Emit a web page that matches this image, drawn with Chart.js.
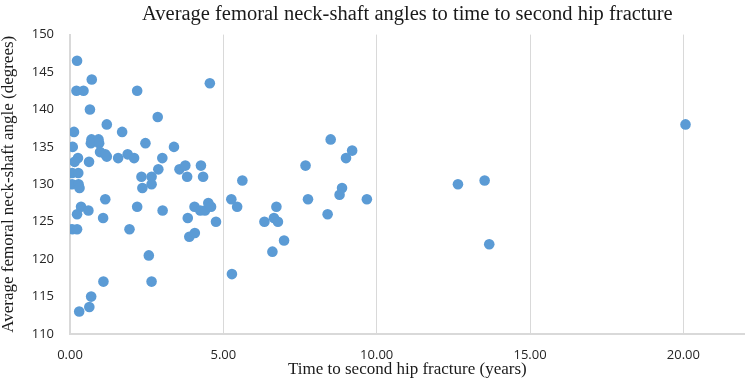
<!DOCTYPE html>
<html>
<head>
<meta charset="utf-8">
<script src="https://cdn.jsdelivr.net/npm/chart.js@4/dist/chart.umd.min.js"></script>
<style>
  html, body { margin: 0; padding: 0; background: #fff; }
  #wrap { width: 750px; height: 387px; position: relative; }
</style>
</head>
<body>
<div id="wrap"><canvas id="c" width="750" height="387"></canvas></div>
<script>
// Time to second hip fracture (years)
const timeYears = [
  0.23, 0.71, 0.21, 0.44, 2.19, 4.56, 0.65, 2.86, 1.20, 0.13,
  1.70, 0.70, 0.93, 0.68, 0.95, 2.46, 0.09, 3.39, 0.98, 1.15,
  1.88, 1.20, 0.26, 1.57, 2.09, 3.01, 0.15, 0.62, 2.88, 3.57,
  3.76, 4.27, 4.34, 3.82, 2.33, 2.66, 2.36, 2.66, 0.07, 0.27,
  0.07, 0.28, 0.31, 5.62, 1.15, 5.26, 5.45, 0.36, 0.23, 0.60,
  1.08, 2.19, 3.02, 1.94, 0.07, 0.23, 3.84, 4.06, 4.25, 4.40,
  4.51, 4.60, 4.76, 3.89, 4.07, 2.57, 1.09, 2.66, 5.28, 0.69,
  0.63, 0.30, 8.50, 9.20, 9.00, 7.68, 8.87, 8.79, 7.76, 9.68,
  8.40, 6.73, 6.34, 6.65, 6.78, 6.98, 6.60, 20.07, 12.65, 13.52,
  13.67
];
// Average femoral neck-shaft angle (degrees)
const neckShaftAngle = [
  146.5, 144.0, 142.5, 142.5, 142.5, 143.5, 140.0, 139.0, 138.0, 137.0,
  137.0, 136.0, 136.0, 135.5, 135.5, 135.5, 135.0, 135.0, 134.3, 134.0,
  134.0, 133.7, 133.5, 133.5, 133.5, 133.5, 133.0, 133.0, 132.0, 132.0,
  132.5, 132.5, 131.0, 131.0, 131.0, 131.0, 129.5, 130.0, 131.5, 131.5,
  130.0, 130.0, 129.5, 130.5, 128.0, 128.0, 127.0, 127.0, 126.0, 126.5,
  125.5, 127.0, 126.5, 124.0, 124.0, 124.0, 125.5, 127.0, 126.5, 126.5,
  127.5, 127.0, 125.0, 123.0, 123.5, 120.5, 117.0, 117.0, 118.0, 115.0,
  113.6, 113.0, 136.0, 134.5, 133.5, 132.5, 129.5, 128.6, 128.0, 128.0,
  126.0, 127.0, 125.0, 125.5, 125.0, 122.5, 121.0, 138.0, 130.0, 130.5,
  122.0
];
const xTickValues = [0, 5, 10, 15, 20];
const yTickValues = [110, 115, 120, 125, 130, 135, 140, 145, 150];

const chartTitle = 'Average femoral neck-shaft angles to time to second hip fracture';
const xTitle = 'Time to second hip fracture (years)';
const yTitle = 'Average femoral neck-shaft angle (degrees)';

const points = timeYears.map((x, i) => ({ x: x, y: neckShaftAngle[i] }));

const tickFont = { family: '"Open Sans", "Liberation Sans", sans-serif', size: 13 };
const serif = '"Liberation Serif", "DejaVu Serif", serif';

new Chart(document.getElementById('c'), {
  type: 'scatter',
  data: {
    datasets: [{
      data: points,
      backgroundColor: '#5b9bd5',
      borderColor: '#5b9bd5',
      borderWidth: 0,
      pointRadius: 5.3,
      pointHoverRadius: 5.3
    }]
  },
  options: {
    responsive: false,
    animation: false,
    devicePixelRatio: 1,
    layout: { padding: 0 },
    plugins: {
      legend: { display: false },
      tooltip: { enabled: false },
      title: {
        display: true,
        fullSize: false,
        text: chartTitle,
        color: '#1a1a1a',
        font: { family: serif, size: 20.5, weight: 'normal', lineHeight: 1.2 },
        padding: { top: 2, bottom: 8 }
      }
    },
    scales: {
      x: {
        type: 'linear',
        min: 0,
        max: 22,
        afterBuildTicks: (s) => { s.ticks = xTickValues.map(v => ({ value: v })); },
        afterFit: (s) => { s.height = 53; s.paddingLeft = 0; s.paddingRight = 0; },
        ticks: {
          includeBounds: false,
          padding: 13,
          color: '#262626',
          font: tickFont,
          maxRotation: 0,
          callback: (v) => Number(v).toFixed(2)
        },
        grid: { display: true, color: '#d9d9d9', lineWidth: 1, drawTicks: false },
        border: { display: true, color: '#d9d9d9', width: 2 },
        title: {
          display: true,
          text: xTitle,
          color: '#1a1a1a',
          font: { family: serif, size: 17, lineHeight: 1 },
          padding: { top: 0, bottom: 8.5 }
        }
      },
      y: {
        type: 'linear',
        min: 110,
        max: 150,
        afterBuildTicks: (s) => { s.ticks = yTickValues.map(v => ({ value: v })); },
        afterFit: (s) => { s.width = 70; },
        ticks: {
          padding: 16,
          color: '#262626',
          font: tickFont,
          callback: (v) => String(v)
        },
        grid: { display: false, drawTicks: false },
        border: { display: true, color: '#d9d9d9', width: 2 },
        title: {
          display: true,
          text: yTitle,
          color: '#1a1a1a',
          font: { family: serif, size: 17, lineHeight: 1 },
          padding: { top: 0, bottom: 0 }
        }
      }
    }
  }
});
</script>
</body>
</html>
